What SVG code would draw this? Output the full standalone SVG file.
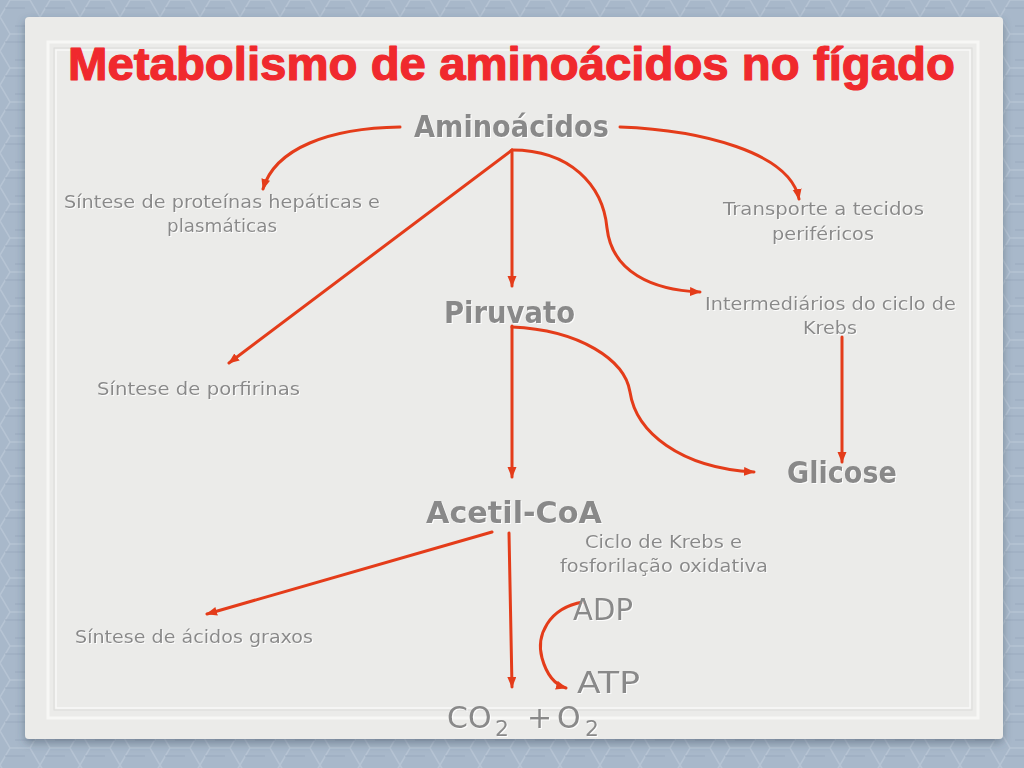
<svg xmlns="http://www.w3.org/2000/svg" width="1024" height="768" viewBox="0 0 1024 768">
<style>
.title{font-family:"Liberation Sans",Arial,sans-serif;font-weight:bold;font-size:47px;fill:#f0292d;stroke:#f0292d;stroke-width:1.2;stroke-linejoin:round}
.lbl{font-family:"Comic Sans MS","DejaVu Sans",sans-serif;fill:#898989;filter:url(#emb)}
.sm{font-size:18px}
.big{font-size:31px;font-weight:bold}
.mid{font-size:30px}
.sub{font-size:22px}
.con{fill:none;stroke:#e43c1a;stroke-width:3;stroke-linecap:round}
.arr{marker-end:url(#ah)}
</style>
<defs>
<marker id="ah" markerUnits="userSpaceOnUse" markerWidth="12" markerHeight="10" refX="10" refY="4.5" orient="auto">
<path d="M0,0 L11,4.5 L0,9 Z" fill="#e43c1a"/>
</marker>
<filter id="emb" x="-5%" y="-20%" width="110%" height="140%">
<feDropShadow dx="1" dy="1" stdDeviation="0.3" flood-color="#ffffff" flood-opacity="0.9"/>
</filter>
<filter id="sh" x="-5%" y="-5%" width="110%" height="110%">
<feDropShadow dx="0" dy="4" stdDeviation="4" flood-color="#3a4a5c" flood-opacity="0.45"/>
</filter>
<pattern id="bgp" width="40" height="34" patternUnits="userSpaceOnUse">
<rect width="40" height="34" fill="#a8b8ca"/>
<path d="M0,17 L10,0 L30,0 L40,17 L30,34 L10,34 Z M10,0 L0,-17 M30,34 L40,51" fill="none" stroke="#b6c4d4" stroke-width="1.5"/>
<path d="M5,8 L25,8 M15,26 L35,26" fill="none" stroke="#9babbe" stroke-width="1"/>
</pattern>
</defs>
<rect id="background" width="1024" height="768" fill="url(#bgp)"/>
<rect id="paper" x="25" y="17" width="978" height="722" rx="4" fill="#ebebe9" filter="url(#sh)"/>
<rect x="48" y="42" width="930" height="676" fill="none" stroke="#f7f7f5" stroke-width="3"/>
<rect x="54" y="48" width="918" height="662" fill="none" stroke="#dcdcda" stroke-width="1"/>
<rect x="56" y="50" width="914" height="658" fill="none" stroke="#f9f9f7" stroke-width="1.5"/>

<text id="title" class="title" x="68" y="80" textLength="887" lengthAdjust="spacingAndGlyphs">Metabolismo de aminoácidos no fígado</text>

<g id="connectors">
<path class="con arr" d="M400,127 C330,128 275,148 263,189"/>
<path class="con arr" d="M620,127 C700,130 790,152 799,199"/>
<path class="con arr" d="M512,150 L512,286"/>
<path class="con arr" d="M512,150 L229,363"/>
<path class="con arr" d="M512,150 C570,150 603,185 607,228 C612,272 652,290 700,292"/>
<path class="con arr" d="M512,326 L512,477"/>
<path class="con arr" d="M512,327 C580,330 625,360 630,392 C636,432 680,468 754,472"/>
<path class="con arr" d="M842,337 L842,462"/>
<path class="con arr" d="M492,532 L207,614"/>
<path class="con arr" d="M509,533 L512,687"/>
<path class="con arr" d="M583,602 C548,608 536,636 542,658 C547,676 556,685 566,688"/>
</g>

<g id="n_aminoacidos"><text class="lbl big" x="414" y="137" textLength="195" lengthAdjust="spacingAndGlyphs">Aminoácidos</text></g>
<g id="n_proteinas">
<text class="lbl sm" x="64" y="208" textLength="316" lengthAdjust="spacingAndGlyphs">Síntese de proteínas hepáticas e</text>
<text class="lbl sm" x="167" y="232" textLength="110" lengthAdjust="spacingAndGlyphs">plasmáticas</text>
</g>
<g id="n_transporte">
<text class="lbl sm" x="723" y="215" textLength="201" lengthAdjust="spacingAndGlyphs">Transporte a tecidos</text>
<text class="lbl sm" x="772" y="240" textLength="102" lengthAdjust="spacingAndGlyphs">periféricos</text>
</g>
<g id="n_piruvato"><text class="lbl big" x="444" y="323" textLength="131" lengthAdjust="spacingAndGlyphs">Piruvato</text></g>
<g id="n_intermediarios">
<text class="lbl sm" x="705" y="310" textLength="251" lengthAdjust="spacingAndGlyphs">Intermediários do ciclo de</text>
<text class="lbl sm" x="803" y="334" textLength="54" lengthAdjust="spacingAndGlyphs">Krebs</text>
</g>
<g id="n_porfirinas"><text class="lbl sm" x="97" y="395" textLength="203" lengthAdjust="spacingAndGlyphs">Síntese de porfirinas</text></g>
<g id="n_glicose"><text class="lbl big" x="787" y="483" textLength="110" lengthAdjust="spacingAndGlyphs">Glicose</text></g>
<g id="n_acetilcoa"><text class="lbl big" x="426" y="523" textLength="176" lengthAdjust="spacingAndGlyphs">Acetil-CoA</text></g>
<g id="n_ciclo">
<text class="lbl sm" x="585" y="548" textLength="157" lengthAdjust="spacingAndGlyphs">Ciclo de Krebs e</text>
<text class="lbl sm" x="560" y="572" textLength="208" lengthAdjust="spacingAndGlyphs">fosforilação oxidativa</text>
</g>
<g id="n_acidosgraxos"><text class="lbl sm" x="75" y="643" textLength="238" lengthAdjust="spacingAndGlyphs">Síntese de ácidos graxos</text></g>
<g id="n_adp"><text class="lbl mid" x="573" y="620" textLength="60" lengthAdjust="spacingAndGlyphs">ADP</text></g>
<g id="n_atp"><text class="lbl mid" x="577" y="693" textLength="63" lengthAdjust="spacingAndGlyphs">ATP</text></g>
<g id="n_co2o2"><text class="lbl mid" x="447" y="728">CO<tspan class="sub" x="495" y="736">2</tspan><tspan x="527" y="728">+</tspan><tspan x="557" y="728">O</tspan><tspan class="sub" x="585" y="736">2</tspan></text></g>
</svg>
